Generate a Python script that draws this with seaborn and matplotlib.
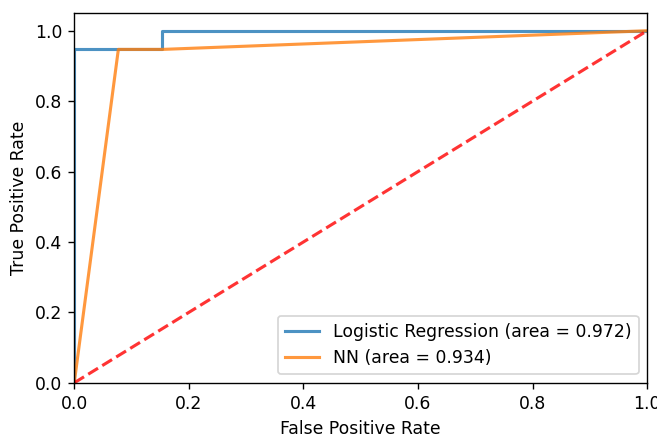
import pandas as pd
import matplotlib
matplotlib.use("Agg")
import matplotlib.pyplot as plt
import seaborn as sns

# ROC points
lr_fpr = [0.0, 0.0, 0.154, 0.154, 1.0]
lr_tpr = [0.0, 0.947, 0.947, 1.0, 1.0]
nn_fpr = [0.0, 0.077, 0.154, 1.0]
nn_tpr = [0.0, 0.947, 0.947, 1.0]
lr_auc = 0.972
nn_auc = 0.934
chance = [0.0, 1.0]

fig, ax = plt.subplots(figsize=(657 / 124, 438 / 124), dpi=124)
fig.subplots_adjust(left=0.113, right=0.985, bottom=0.126, top=0.970)

lr_df = pd.DataFrame({'fpr': lr_fpr, 'tpr': lr_tpr})
nn_df = pd.DataFrame({'fpr': nn_fpr, 'tpr': nn_tpr})

sns.lineplot(data=lr_df, x='fpr', y='tpr', sort=False, ax=ax, color='#1f77b4',
             linewidth=1.8, alpha=0.8, estimator=None,
             label='Logistic Regression (area = %0.3f)' % lr_auc)
sns.lineplot(data=nn_df, x='fpr', y='tpr', sort=False, ax=ax, color='#ff7f0e',
             linewidth=1.8, alpha=0.8, estimator=None,
             label='NN (area = %0.3f)' % nn_auc)
ax.plot(chance, chance, 'r--', linewidth=1.8, alpha=0.8)

ax.set_xlim([0.0, 1.0])
ax.set_ylim([0.0, 1.05])
ax.set_xlabel('False Positive Rate')
ax.set_ylabel('True Positive Rate')
ax.legend(loc='lower right')

plt.savefig('out.png', dpi=124)
